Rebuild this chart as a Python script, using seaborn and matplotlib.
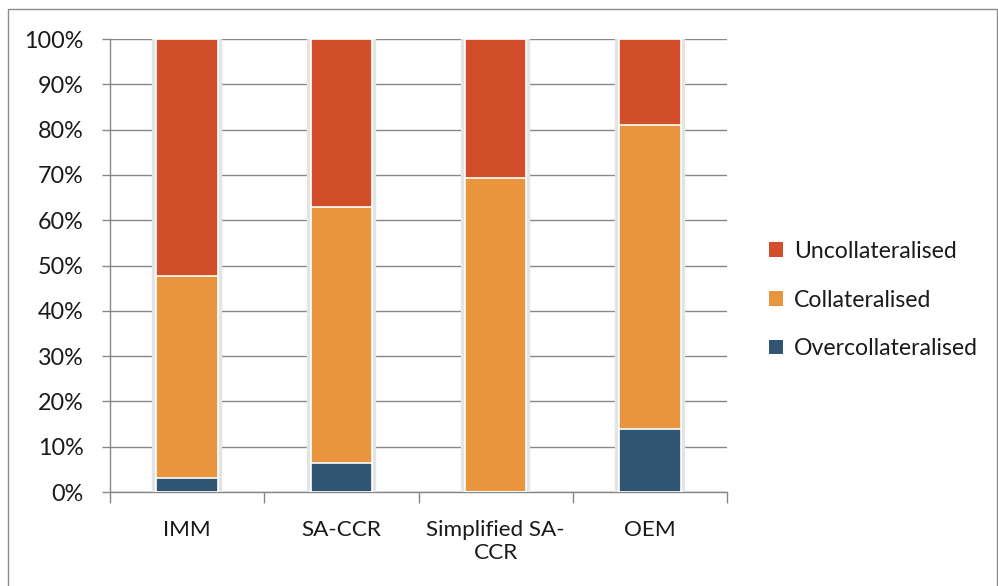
import matplotlib
matplotlib.use("Agg")
import matplotlib.pyplot as plt
import matplotlib.patheffects as pe
from matplotlib.patches import Rectangle, Patch
from matplotlib.ticker import MultipleLocator, FuncFormatter
import numpy as np
import pandas as pd
import seaborn as sns

# Exposure shares by approach (percent)
categories = ["IMM", "SA-CCR", "Simplified SA-\nCCR", "OEM"]
overcollateralised = [3.2, 6.5, 0.0, 13.9]
collateralised = [44.5, 56.4, 69.4, 67.1]
uncollateralised = [52.3, 37.1, 30.6, 19.0]

series_names = ["Uncollateralised", "Collateralised", "Overcollateralised"]
colors = {"Uncollateralised": "#D24E2B",
          "Collateralised": "#E9953D",
          "Overcollateralised": "#2F5572"}

over = np.array(overcollateralised)
coll = np.array(collateralised)
uncoll = np.array(uncollateralised)

df = pd.DataFrame({
    "category": categories,
    "Overcollateralised": over,
    "Collateralised": over + coll,
    "Uncollateralised": over + coll + uncoll,
})

sns.set_theme(style="white")
plt.rcParams["font.family"] = ["Lato", "DejaVu Sans"]

fig = plt.figure(figsize=(9.98, 5.86), dpi=100)
ax = fig.add_axes([0.1102, 0.1604, 0.6183, 0.773])

# stacked bars: cumulative totals drawn from the top layer down
for i, name in enumerate(series_names):
    sns.barplot(data=df, x="category", y=name, color=colors[name],
                width=0.40, edgecolor="white", linewidth=1.2,
                saturation=1, ax=ax, zorder=3 + i)
    if i == 0:
        for p in ax.patches:
            p.set_path_effects([pe.Stroke(linewidth=6, foreground="#e4e4e4"),
                                pe.Normal()])

ax.set_ylim(0, 100)
ax.set_xlim(-0.5, len(categories) - 0.5)
ax.yaxis.set_major_locator(MultipleLocator(10))
ax.yaxis.set_major_formatter(FuncFormatter(lambda v, _: f"{v:.0f}%"))
ax.grid(axis="y", color="#878787", linewidth=1.0, zorder=0)
ax.set_axisbelow(True)

for side in ["top", "right"]:
    ax.spines[side].set_visible(False)
for side in ["left", "bottom"]:
    ax.spines[side].set_color("#878787")
    ax.spines[side].set_linewidth(1.0)

ax.set_xlabel("")
ax.set_ylabel("")
ax.tick_params(axis="y", which="major", left=True, length=6, width=1.0,
               color="#878787", labelsize=16.8, labelcolor="#1a1a1a", pad=13)
ax.tick_params(axis="x", which="major", bottom=False, labelsize=16.2,
               labelcolor="#1a1a1a", pad=14)
# category separators on the x axis
ax.set_xticks(np.arange(-0.5, len(categories)), minor=True)
ax.tick_params(axis="x", which="minor", bottom=True, length=8, width=1.0,
               color="#878787")

handles = [Patch(facecolor=colors[n], edgecolor="none") for n in series_names]
fig.legend(handles, series_names, loc="center left",
           bbox_to_anchor=(0.771, 0.488), frameon=False, fontsize=16.6,
           handlelength=0.6, handleheight=0.6, handletextpad=0.45,
           labelspacing=1.2, labelcolor="#1a1a1a", borderpad=0,
           borderaxespad=0)

fig.patches.append(Rectangle((0.008, -0.02), 0.991, 1.0046,
                             transform=fig.transFigure, fill=False,
                             edgecolor="#8c8c8c", linewidth=1.0))

fig.savefig("out.png", dpi=100)
